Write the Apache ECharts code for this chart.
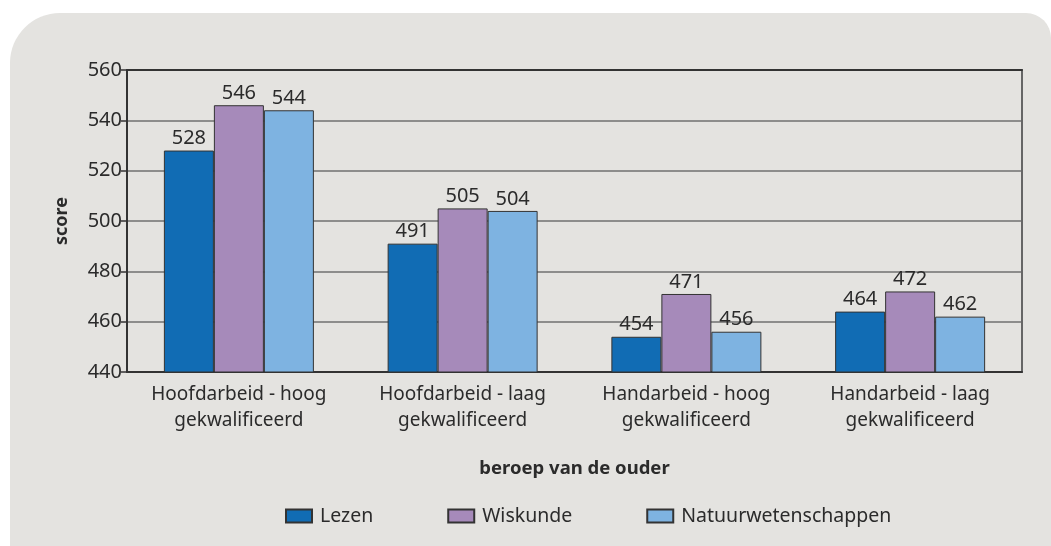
<!DOCTYPE html>
<html>
<head>
<meta charset="utf-8">
<script src="https://cdn.jsdelivr.net/npm/echarts@6/dist/echarts.min.js"></script>
<style>
  html, body { margin: 0; padding: 0; background: #fff; }
  #chart { width: 1051px; height: 546px; }
</style>
</head>
<body>
<div id="chart"></div>
<script>
const categories = [
  "Hoofdarbeid - hoog\ngekwalificeerd",
  "Hoofdarbeid - laag\ngekwalificeerd",
  "Handarbeid - hoog\ngekwalificeerd",
  "Handarbeid - laag\ngekwalificeerd",
];
const lezen = [528, 491, 454, 464];
const wiskunde = [546, 505, 471, 472];
const natuur = [544, 504, 456, 462];

const font = "Noto Sans";
const textColor = "#2b2b2b";

const chart = echarts.init(document.getElementById("chart"));

function barSeries(name, data, color) {
  return {
    name,
    type: "bar",
    data,
    barWidth: 50,
    barGap: "0%",
    itemStyle: { color, borderColor: "#333", borderWidth: 1 },
    label: {
      show: true,
      position: "top",
      distance: 2,
      fontFamily: font,
      fontSize: 20,
      color: textColor,
    },
  };
}

chart.setOption({
  animation: false,
  backgroundColor: "#fff",
  textStyle: { fontFamily: font },
  graphic: [
    {
      type: "rect",
      z: -10,
      shape: { x: 10, y: 13, width: 1041, height: 540, r: [50, 25, 0, 0] },
      style: { fill: "#e4e3e0" },
    },
  ],
  grid: { left: 127, top: 70, right: 29, bottom: 174 },
  legend: {
    left: 280,
    top: 501,
    icon: "rect",
    itemWidth: 26,
    itemHeight: 13,
    itemGap: 74,
    textStyle: { fontFamily: font, fontSize: 19.5, color: textColor, padding: [0, 0, 0, 3] },
    data: ["Lezen", "Wiskunde", "Natuurwetenschappen"],
  },
  xAxis: [
    {
      type: "category",
      data: categories,
      name: "beroep van de ouder",
      nameLocation: "middle",
      nameGap: 87,
      nameTextStyle: { fontFamily: font, fontSize: 18.5, fontWeight: "bold", color: textColor },
      axisLine: { lineStyle: { color: "#333", width: 2 } },
      axisTick: { length: 7, lineStyle: { color: "#333", width: 1.5 } },
      axisLabel: {
        interval: 0,
        hideOverlap: false,
        fontFamily: font,
        fontSize: 19,
        lineHeight: 26,
        color: textColor,
        margin: 10,
      },
    },
    {
      type: "category",
      position: "top",
      data: categories,
      axisLine: { lineStyle: { color: "#333", width: 2 } },
      axisTick: { show: false },
      axisLabel: { show: false },
    },
  ],
  yAxis: [
    {
      type: "value",
      min: 440,
      max: 560,
      interval: 20,
      name: "score",
      nameLocation: "middle",
      nameGap: 56,
      nameTextStyle: { fontFamily: font, fontSize: 18, fontWeight: "bold", color: textColor },
      axisLine: { show: true, lineStyle: { color: "#333", width: 2 } },
      axisTick: { show: true, length: 6, lineStyle: { color: "#333", width: 1.5 } },
      axisLabel: { fontFamily: font, fontSize: 20, color: textColor, margin: 5 },
      splitLine: { lineStyle: { color: "#707070", width: 1.5 } },
    },
    {
      type: "value",
      position: "right",
      min: 440,
      max: 560,
      interval: 20,
      axisLine: { show: true, lineStyle: { color: "#666", width: 2 } },
      axisTick: { show: false },
      axisLabel: { show: false },
      splitLine: { show: false },
    },
  ],
  series: [
    barSeries("Lezen", lezen, "#116cb4"),
    barSeries("Wiskunde", wiskunde, "#a68aba"),
    barSeries("Natuurwetenschappen", natuur, "#7eb3e1"),
  ],
});
</script>
</body>
</html>
